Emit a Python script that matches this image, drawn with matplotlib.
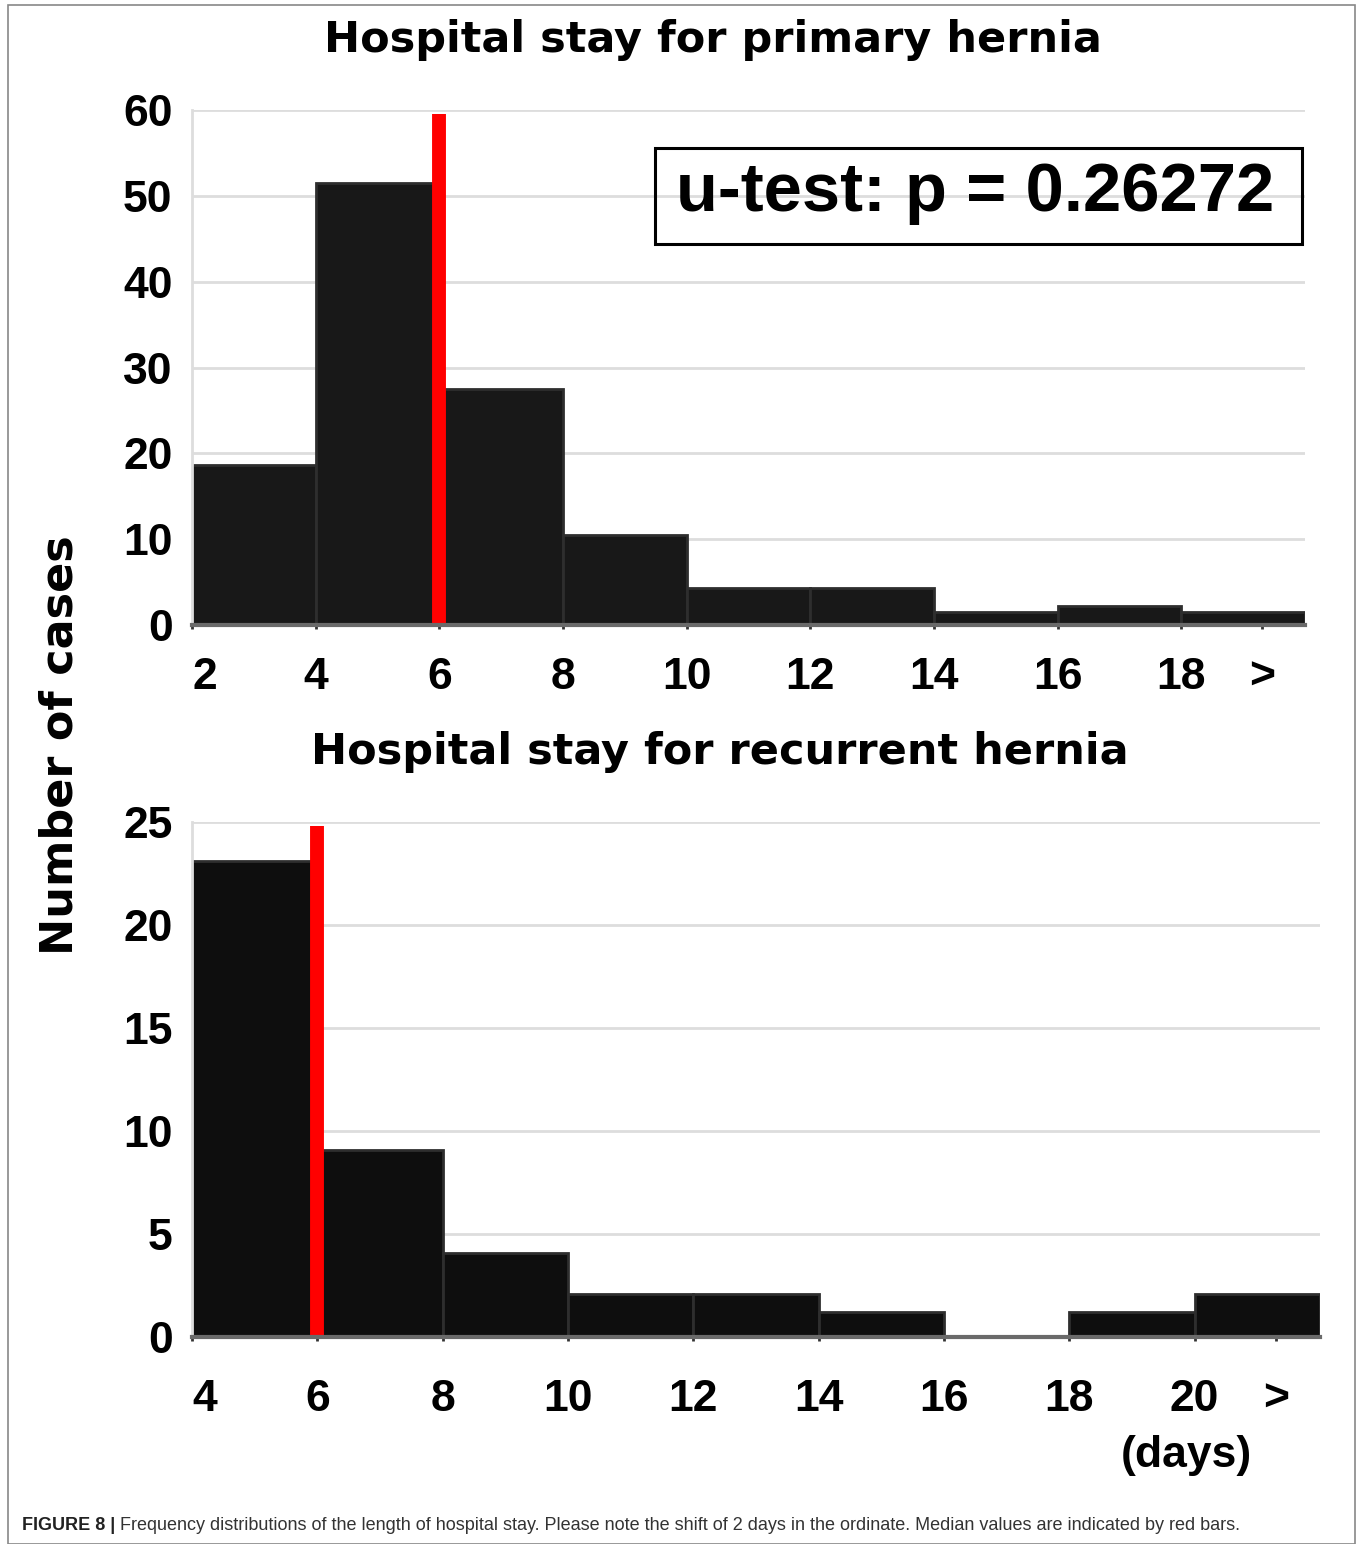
import matplotlib
matplotlib.use("Agg")
import matplotlib.pyplot as plt
from matplotlib.patches import Rectangle

# datos
etiquetas_prim = ["2", "4", "6", "8", "10", "12", "14", "16", "18"]
casos_prim = [18.6, 51.5, 27.5, 10.5, 4.3, 4.3, 1.5, 2.2, 1.5]
mediana_prim = 6

etiquetas_rec = ["4", "6", "8", "10", "12", "14", "16", "18", "20"]
casos_rec = [23.1, 9.1, 4.1, 2.1, 2.1, 1.2, 0, 1.2, 2.1]
mediana_rec = 6

W, H = 1357, 1544
fig = plt.figure(figsize=(W / 100, H / 100), dpi=100)
fig.patch.set_facecolor("white")

# marco gris de toda la figura
fig.add_artist(Rectangle((8 / W, 0), (1355 - 8) / W, 1 - 5 / H, transform=fig.transFigure,
                         fill=False, edgecolor="#888888", linewidth=1.2))

tick_font = dict(family="Liberation Sans", weight="bold", size=32)
titulo_font = dict(family="DejaVu Sans", weight="bold", size=31)


def panel(rect, etiquetas, casos, mediana, ymax, ystep, color, pad_x):
    ax = fig.add_axes(rect)
    n = len(casos)
    x = list(range(n))
    ax.bar(x, casos, width=1.0, align="edge", color=color, edgecolor="#2e2e2e", linewidth=2, zorder=2)
    # mediana (barra roja) en el borde del intervalo
    xm = etiquetas.index(str(mediana))
    ax.vlines(xm, 0, ymax * 0.992, color="#ff0000", linewidth=10, zorder=3)
    ax.set_xlim(0, n)
    ax.set_ylim(0, ymax)
    ax.set_yticks(range(0, ymax + 1, ystep))
    ax.set_yticklabels([str(v) for v in range(0, ymax + 1, ystep)], fontdict=tick_font)
    ax.grid(axis="y", color="#dddddd", linewidth=2, zorder=0)
    ax.set_axisbelow(True)
    for s in ["top", "right"]:
        ax.spines[s].set_visible(False)
    ax.spines["left"].set_color("#dddddd")
    ax.spines["left"].set_linewidth(2)
    ax.spines["bottom"].set_color("#6a6a6a")
    ax.spines["bottom"].set_linewidth(3)
    ax.spines["bottom"].set_zorder(4)
    ax.tick_params(axis="y", length=0, pad=14)
    ax.tick_params(axis="x", length=3, width=2, color="#333333", pad=pad_x)
    ax.set_xticks(x + [n - 0.35])
    ax.set_xticklabels(etiquetas + [">"], fontdict=tick_font)
    ax.get_xticklabels()[0].set_horizontalalignment("left")
    return ax


ax1 = panel([192 / W, 1 - 625 / H, (1305 - 192) / W, (625 - 110) / H],
            etiquetas_prim, casos_prim, mediana_prim, 60, 10, "#181818", 20)
ax2 = panel([192 / W, 1 - 1337 / H, (1320 - 192) / W, (1337 - 822) / H],
            etiquetas_rec, casos_rec, mediana_rec, 25, 5, "#0e0e0e", 27)

fig.text(713 / W, 1 - 40 / H, "Hospital stay for primary hernia", ha="center", va="center", **titulo_font)
fig.text(720 / W, 1 - 752 / H, "Hospital stay for recurrent hernia", ha="center", va="center", **titulo_font)
fig.text(60 / W, 1 - 745 / H, "Number of cases", rotation=90, ha="center", va="center",
         family="DejaVu Sans", weight="bold", size=32)

# cuadro del u-test
fig.add_artist(Rectangle((655 / W, 1 - 244 / H), (1302 - 655) / W, (244 - 148) / H,
                         transform=fig.transFigure, fill=False, edgecolor="black", linewidth=2.2))
fig.text(975 / W, 1 - 193 / H, "u-test: p = 0.26272", ha="center", va="center",
         family="Liberation Sans", weight="bold", size=49.5)

fig.text(1186 / W, 1 - 1455 / H, "(days)", ha="center", va="center", **tick_font)

# pie de figura
r = fig.canvas.get_renderer()
t1 = fig.text(22 / W, 1 - 1526 / H, "FIGURE 8 |", ha="left", va="center",
              family="Liberation Sans", weight="bold", size=13, color="#222222")
bb = t1.get_window_extent(renderer=r)
fig.text((bb.x1 + 5) / W, 1 - 1526 / H,
         "Frequency distributions of the length of hospital stay. Please note the shift of 2 days in the ordinate. "
         "Median values are indicated by red bars.",
         ha="left", va="center", family="Liberation Sans", size=13, color="#333333")

fig.savefig("out.png", dpi=100)
